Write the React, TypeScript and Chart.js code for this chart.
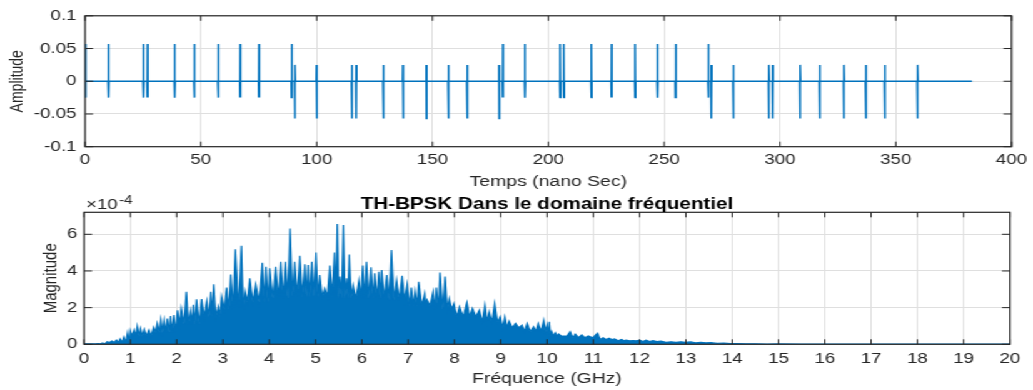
import React, { useEffect, useRef } from "react";
import { Chart, registerables } from "chart.js";

Chart.register(...registerables);

// ---------- layout constants (natural, un-stretched width) ----------
const NAT_W = 826;
const NAT_H = 390;
const SX = 1033 / NAT_W;

const FONT = '"Liberation Sans", Arial, Helvetica, sans-serif';
const TEXT = "#262626";
const GRID = "#dfdfdf";
const BLUE = "#0072BD";

// ---------- top plot data: TH-BPSK time signal ----------
const timeTicks = [0, 50, 100, 150, 200, 250, 300, 350, 400];
const amplitudeTicks = [-0.1, -0.05, 0, 0.05, 0.1];
const amplitudeTickLabels = ["-0.1", "-0.05", "0", "0.05", "0.1"];
const pulseTimes = [
  0.3, 10.1, 25.2, 27.0, 38.7, 47.2, 57.5, 67.0, 75.1, 89.2,
  90.6, 100.0, 115.2, 117.1, 128.8, 137.3, 147.4, 156.9, 165.0, 178.8,
  180.4, 189.9, 205.1, 206.7, 218.6, 227.3, 237.5, 247.1, 255.0, 269.1,
  270.4, 279.9, 295.2, 296.9, 308.7, 317.2, 327.6, 337.1, 345.3, 359.4,
];
const bitPolarity = [1, -1, 1, -1];
const pulsesPerBit = 10;
const pulseMainLobe = 0.057;
const pulseSideLobe = -0.025;
const signalEnd = 382.9;

// ---------- bottom plot data: magnitude spectrum (x 1e-4) ----------
const freqTicks = [0, 1, 2, 3, 4, 5, 6, 7, 8, 9, 10, 11, 12, 13, 14, 15, 16, 17, 18, 19, 20];
const magnitudeTicks = [0, 2, 4, 6];
const peakFreqs = [
  0.1, 0.2, 0.3, 0.4, 0.5, 0.6, 0.7, 0.78, 0.86, 0.94,
  1.0, 1.08, 1.15, 1.22, 1.3, 1.4, 1.5, 1.58, 1.66, 1.73,
  1.8, 1.87, 1.94, 2.02, 2.1, 2.21, 2.3, 2.36, 2.43, 2.54,
  2.65, 2.74, 2.8, 2.9, 2.97, 3.08, 3.17, 3.27, 3.4, 3.48,
  3.58, 3.71, 3.85, 3.93, 4.01, 4.14, 4.25, 4.35, 4.45, 4.55,
  4.66, 4.77, 4.84, 4.92, 5.01, 5.09, 5.2, 5.31, 5.41, 5.47,
  5.53, 5.6, 5.67, 5.73, 5.81, 5.94, 6.02, 6.1, 6.2, 6.28,
  6.37, 6.43, 6.54, 6.64, 6.75, 6.87, 6.98, 7.07, 7.15, 7.23,
  7.36, 7.41, 7.54, 7.61, 7.69, 7.8, 7.89, 7.99, 8.11, 8.27,
  8.39, 8.54, 8.66, 8.75, 8.87, 8.99, 9.09, 9.18, 9.32, 9.46,
  9.57, 9.71, 9.81, 9.93, 10.0, 10.05, 10.1, 10.18, 10.25, 10.36,
  10.5, 10.61, 10.75, 10.89, 11.09, 11.21, 11.34, 11.46, 11.61, 11.71,
  11.86, 12.0, 12.14, 12.29, 12.46, 12.68, 12.89, 13.1, 13.32, 13.54,
  13.82, 14.1, 14.5, 15.0, 16.0, 17.0, 18.0, 19.0, 20.0,
];
const peakMags = [
  0.02, 0.03, 0.04, 0.07, 0.14, 0.18, 0.23, 0.3, 0.4, 0.63,
  0.76, 0.78, 0.98, 0.87, 0.82, 0.78, 0.92, 1.14, 1.36, 1.32,
  1.41, 1.54, 1.6, 1.85, 1.96, 2.87, 1.8, 2.15, 2.45, 2.47,
  2.36, 2.87, 3.27, 2.05, 2.6, 3.09, 3.81, 5.18, 5.38, 2.9,
  3.6, 3.27, 4.45, 4.23, 4.14, 4.23, 4.5, 4.5, 6.32, 4.5,
  4.83, 4.36, 4.32, 4.5, 5.0, 3.78, 3.05, 4.29, 5.0, 6.56,
  3.69, 6.5, 3.6, 4.9, 3.23, 3.5, 4.3, 4.5, 4.2, 3.87,
  3.96, 4.05, 3.78, 5.14, 3.5, 3.74, 3.27, 3.09, 2.9, 3.41,
  2.78, 2.42, 2.87, 3.09, 3.92, 3.69, 2.5, 2.23, 2.05, 2.29,
  1.96, 1.87, 2.14, 1.78, 2.23, 1.5, 1.5, 1.27, 1.14, 1.05,
  1.14, 0.96, 1.14, 1.32, 1.05, 1.23, 0.69, 0.63, 0.56, 0.45,
  0.69, 0.56, 0.51, 0.45, 0.6, 0.36, 0.33, 0.29, 0.27, 0.23,
  0.2, 0.23, 0.23, 0.2, 0.18, 0.14, 0.14, 0.13, 0.11, 0.09,
  0.07, 0.04, 0.03, 0.02, 0.015, 0.012, 0.01, 0.01, 0.01,
];
const floorBinWidth = 0.5;
const floorMags = [
  0.02, 0.1, 0.45, 0.65, 1.1, 1.5, 1.9, 2.3, 2.5, 2.6,
  2.6, 2.5, 2.5, 2.4, 2.1, 1.9, 1.5, 1.2, 0.9, 0.7,
  0.45, 0.36, 0.26, 0.19, 0.15, 0.11, 0.08, 0.05, 0.025, 0.015, 0.01,
];

// ---------- series builders ----------
function buildTimeSeries() {
  const pts: { x: number; y: number }[] = [{ x: 0, y: 0 }];
  pulseTimes.forEach((t, i) => {
    const s = bitPolarity[Math.floor(i / pulsesPerBit)];
    pts.push(
      { x: t - 0.2, y: 0 },
      { x: t - 0.1, y: pulseSideLobe * s },
      { x: t, y: pulseMainLobe * s },
      { x: t + 0.1, y: pulseSideLobe * s },
      { x: t + 0.2, y: 0 }
    );
  });
  pts.push({ x: signalEnd, y: 0 });
  return pts;
}

function floorAt(f: number) {
  const i = Math.min(Math.floor(f / floorBinWidth), floorMags.length - 1);
  return floorMags[i];
}

// each peak is joined to the next one through a valley at the local floor level
function buildSpectrum() {
  const pts: { x: number; y: number }[] = [{ x: 0, y: floorMags[0] }];
  peakFreqs.forEach((f, i) => {
    pts.push({ x: f, y: peakMags[i] });
    if (i < peakFreqs.length - 1) {
      const mid = (f + peakFreqs[i + 1]) / 2;
      pts.push({ x: mid, y: Math.min(floorAt(mid), peakMags[i], peakMags[i + 1]) });
    }
  });
  return pts;
}

// ---------- plugins ----------
function framePlugin(id: string, xTickLen: number, yTickLen: number) {
  return {
    id,
    afterDatasetsDraw(chart: any) {
      const { ctx, chartArea: a, scales } = chart;
      const xs = scales.x;
      const ys = scales.y;
      ctx.save();
      ctx.strokeStyle = TEXT;
      ctx.lineWidth = 1;
      ctx.beginPath();
      xs.ticks.forEach((t: any) => {
        const px = xs.getPixelForValue(t.value);
        ctx.moveTo(px, a.bottom);
        ctx.lineTo(px, a.bottom - xTickLen);
        ctx.moveTo(px, a.top);
        ctx.lineTo(px, a.top + xTickLen);
      });
      ys.ticks.forEach((t: any) => {
        const py = ys.getPixelForValue(t.value);
        ctx.moveTo(a.left, py);
        ctx.lineTo(a.left + yTickLen, py);
        ctx.moveTo(a.right, py);
        ctx.lineTo(a.right - yTickLen, py);
      });
      ctx.stroke();
      ctx.lineWidth = 1.2;
      ctx.strokeRect(a.left, a.top, a.right - a.left, a.bottom - a.top);
      ctx.restore();
    },
  };
}

const TITLE = "TH-BPSK Dans le domaine fr\u00e9quentiel";

const spectrumTextPlugin = {
  id: "spectrumText",
  afterDraw(chart: any) {
    const { ctx, chartArea: a } = chart;
    ctx.save();
    ctx.fillStyle = "#000";
    ctx.font = `bold 16.5px ${FONT}`;
    ctx.textAlign = "center";
    ctx.textBaseline = "alphabetic";
    ctx.fillText(TITLE, (a.left + a.right) / 2, a.top - 3);
    ctx.fillStyle = TEXT;
    ctx.textAlign = "left";
    ctx.font = `15px ${FONT}`;
    ctx.fillText("\u00d710", a.left + 1.5, a.top - 3);
    const w = ctx.measureText("\u00d710").width;
    ctx.font = `12px ${FONT}`;
    ctx.fillText("-4", a.left + 1.5 + w + 1, a.top - 8);
    ctx.restore();
  },
};

const tickFont = { family: FONT, size: 15 };

export default function App() {
  const topRef = useRef<HTMLCanvasElement>(null);
  const botRef = useRef<HTMLCanvasElement>(null);

  useEffect(() => {
    document.body.style.margin = "0";
    const top = new Chart(topRef.current as HTMLCanvasElement, {
      type: "line",
      data: {
        datasets: [
          {
            data: buildTimeSeries(),
            borderColor: BLUE,
            borderWidth: 1.5,
            pointRadius: 0,
            fill: false,
            tension: 0,
          },
        ],
      },
      options: {
        responsive: false,
        animation: false,
        events: [],
        layout: { padding: { left: 0, top: 13.3, right: 16, bottom: NAT_H - 146.7 - 45 } },
        plugins: { legend: { display: false }, tooltip: { enabled: false } },
        scales: {
          x: {
            type: "linear",
            min: 0,
            max: 400,
            afterBuildTicks: (s: any) => {
              s.ticks = timeTicks.map((v) => ({ value: v }));
            },
            afterFit: (s: any) => {
              s.height = 45;
            },
            grid: { color: GRID, lineWidth: 1, drawTicks: false },
            border: { display: false },
            ticks: {
              color: TEXT,
              font: tickFont,
              padding: 4.6,
              maxRotation: 0,
              autoSkip: false,
              callback: (v: any) => String(v),
            },
            title: {
              display: true,
              text: "Temps (nano Sec)",
              color: TEXT,
              font: { family: FONT, size: 15.5 },
              padding: { top: 0, bottom: 1 },
            },
          },
          y: {
            type: "linear",
            min: -0.1,
            max: 0.1,
            afterBuildTicks: (s: any) => {
              s.ticks = amplitudeTicks.map((v) => ({ value: v }));
            },
            afterFit: (s: any) => {
              s.width = 68;
            },
            grid: { color: GRID, lineWidth: 1, drawTicks: false },
            border: { display: false },
            ticks: {
              color: TEXT,
              font: tickFont,
              padding: 6.8,
              autoSkip: false,
              callback: (_v: any, i: number) => amplitudeTickLabels[i],
            },
            title: {
              display: true,
              text: "Amplitude",
              color: TEXT,
              font: { family: FONT, size: 14 },
              padding: { top: 5.8, bottom: 0 },
            },
          },
        },
      },
      plugins: [framePlugin("frameTop", 5, 6.4)],
    } as any);

    const bot = new Chart(botRef.current as HTMLCanvasElement, {
      type: "line",
      data: {
        datasets: [
          {
            data: buildSpectrum(),
            borderColor: BLUE,
            backgroundColor: BLUE,
            borderWidth: 1.2,
            pointRadius: 0,
            fill: "origin",
            tension: 0,
          },
        ],
      },
      options: {
        responsive: false,
        animation: false,
        events: [],
        layout: { padding: { left: 0, top: 212.3, right: 18.4, bottom: NAT_H - 344.3 - 44 } },
        plugins: { legend: { display: false }, tooltip: { enabled: false } },
        scales: {
          x: {
            type: "linear",
            min: 0,
            max: 20,
            afterBuildTicks: (s: any) => {
              s.ticks = freqTicks.map((v) => ({ value: v }));
            },
            afterFit: (s: any) => {
              s.height = 44;
            },
            grid: { color: GRID, lineWidth: 1, drawTicks: false },
            border: { display: false },
            ticks: {
              color: TEXT,
              font: tickFont,
              padding: 5.9,
              maxRotation: 0,
              autoSkip: false,
              callback: (v: any) => String(v),
            },
            title: {
              display: true,
              text: "Fr\u00e9quence (GHz)",
              color: TEXT,
              font: { family: FONT, size: 15.5 },
              padding: { top: 0, bottom: 0 },
            },
          },
          y: {
            type: "linear",
            min: 0,
            max: 7.2,
            afterBuildTicks: (s: any) => {
              s.ticks = magnitudeTicks.map((v) => ({ value: v }));
            },
            afterFit: (s: any) => {
              s.width = 67.2;
            },
            grid: { color: GRID, lineWidth: 1, drawTicks: false },
            border: { display: false },
            ticks: {
              color: TEXT,
              font: tickFont,
              padding: 5.4,
              autoSkip: false,
              callback: (v: any) => String(v),
            },
            title: {
              display: true,
              text: "Magnitude",
              color: TEXT,
              font: { family: FONT, size: 15 },
              padding: { top: 31.4, bottom: 0 },
            },
          },
        },
      },
      plugins: [framePlugin("frameBot", 5, 6.4), spectrumTextPlugin],
    } as any);

    return () => {
      top.destroy();
      bot.destroy();
    };
  }, []);

  return (
    <div
      style={{
        position: "fixed",
        left: 0,
        top: 0,
        width: 1033,
        height: NAT_H,
        background: "#fff",
        overflow: "hidden",
      }}
    >
      <div
        style={{
          position: "absolute",
          left: 0,
          top: 0,
          width: NAT_W,
          height: NAT_H,
          transform: `scaleX(${SX})`,
          transformOrigin: "0 0",
        }}
      >
        <canvas ref={botRef} width={NAT_W} height={NAT_H} style={{ position: "absolute", left: 0, top: 0 }} />
        <canvas ref={topRef} width={NAT_W} height={NAT_H} style={{ position: "absolute", left: 0, top: 0 }} />
      </div>
    </div>
  );
}
